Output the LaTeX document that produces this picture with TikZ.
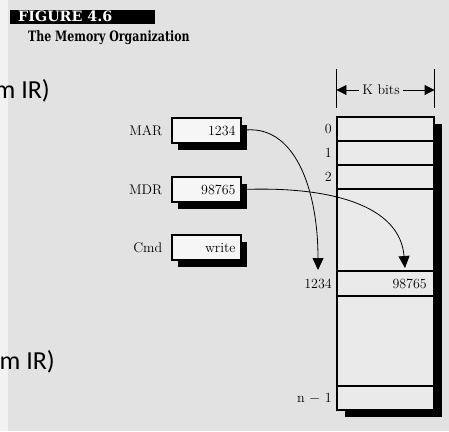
\documentclass[tikz,border=0pt]{standalone}
\usepackage{fontspec}
\newfontfamily\slidefont{Carlito}
\newfontfamily\headfont{DejaVu Serif}
\usepackage{xcolor}
\usepackage{tikz}
\usetikzlibrary{arrows.meta,positioning,shadows}
\definecolor{page}{RGB}{226,226,226}
\definecolor{margin}{RGB}{242,242,242}
\definecolor{boxfill}{RGB}{246,246,246}
\newcommand{\tallhead}[2][1]{\scalebox{#1}[1.3]{#2}}
\tikzset{
  reg/.style={draw,line width=1.1pt,fill=boxfill,minimum width=69pt,minimum height=25pt,
    text width=58pt,inner xsep=5.5pt,inner ysep=0pt,align=right,
    general shadow={fill=black,shadow xshift=6pt,shadow yshift=-7pt}},
  regname/.style={inner sep=0pt,left=9pt of #1},
  rowlbl/.style={anchor=east,inner sep=0pt},
  bigtip/.style={-{Triangle[length=12pt,width=11pt]},line width=0.8pt},
  headtxt/.style={inner sep=0pt,anchor=base west,font=\headfont\bfseries\fontsize{11}{13}\selectfont},
  slidetxt/.style={anchor=base east,inner sep=0pt,font=\slidefont\fontsize{26}{30}\selectfont}
}
\begin{document}
\begin{tikzpicture}[x=1pt,y=-1pt,font=\fontsize{14}{16}\selectfont]
\useasboundingbox (0,0) rectangle (449,431);
\clip (0,0) rectangle (449,431);
\fill[page] (0,0) rectangle (449,431);
\fill[margin] (0,0) rectangle (8,431);
%slide text behind the page
\node[slidetxt] (irtop) at (50,98) {m IR)};
\node[slidetxt] (irbot) at (55,369) {m IR)};
%caption
\fill (10,10) rectangle (155,24);
\node[headtxt,text=white] (fig) at (18,21) {\tallhead[1.3]{FIGURE 4.6}};
\node[headtxt] (title) at (28,41) {\tallhead{The Memory Organization}};
%registers
\node[reg] (mar) at (206.5,130.5) {1234};
\node[reg] (mdr) at (206.5,189.5) {98765};
\node[reg] (cmd) at (206.5,247.5) {write};
\node[regname=mar] (marname) {MAR};
\node[regname=mdr] (mdrname) {MDR};
\node[regname=cmd] (cmdname) {Cmd};
%memory
\node[draw,line width=1.1pt,fill=boxfill!40!page,minimum width=97pt,minimum height=293pt,inner sep=0pt,
  general shadow={fill=black,shadow xshift=8pt,shadow yshift=-7pt}] (mem) at (385.5,263.5) {};
\foreach \y in {141,165,189,271,296,386}
  \draw[line width=1.1pt] (mem.west |- 0,\y) -- (mem.east |- 0,\y);
\foreach \i/\y in {0/129,1/153,2/177}
  \node[rowlbl] (row\i) at (332,\y) {\i};
\node[rowlbl] (addr) at (332,284) {1234};
\node[rowlbl] (last) at (332,398) {n $-$ 1};
\node[anchor=east,inner sep=0pt] (cell) at (427,284) {98765};
%width
\node (kbits) at (381,90) {K bits};
\draw[line width=0.9pt] (mem.north west |- 0,69) -- (mem.north west |- 0,108)
  (mem.north east |- 0,69) -- (mem.north east |- 0,108);
\draw[line width=0.9pt,-{Triangle[length=10pt,width=10pt]}] (kbits.west) -- (mem.north west |- kbits);
\draw[line width=0.9pt,-{Triangle[length=10pt,width=10pt]}] (kbits.east) -- (mem.north east |- kbits);
%transfers
\coordinate (tipA) at (318,270);
\coordinate (tipB) at (405,268);
\draw[bigtip] (mar.east) .. controls (295,122) and (318,190) .. (tipA);
\draw[bigtip] (mdr.east) .. controls (330,186) and (400,205) .. (tipB);
\end{tikzpicture}
\end{document}
